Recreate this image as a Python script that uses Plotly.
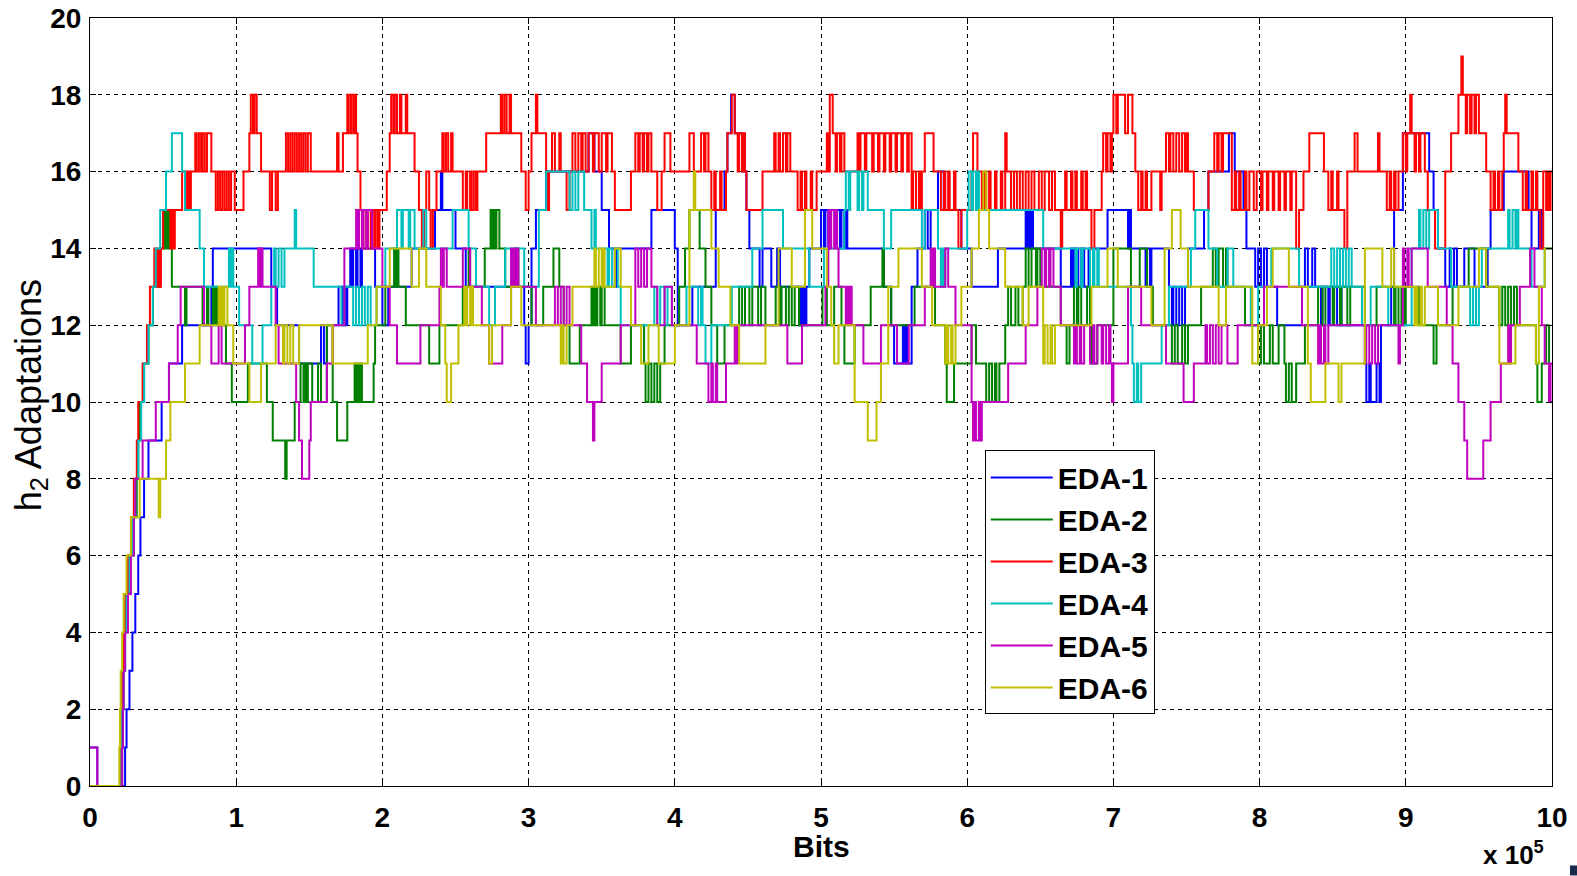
import plotly.graph_objects as go

# Step-change points: (bits in units of 1e5, number of h2 adaptations)
EDA1 = [(0, 1), (0.05, 0), (0.24, 1), (0.25, 2), (0.27, 3), (0.29, 4), (0.31, 5), (0.33, 6), (0.345, 7), (0.37, 8),
        (0.40, 9), (0.49, 10), (0.54, 11), (0.63, 12), (0.83, 13), (0.84, 14), (1.24, 13), (1.28, 12), (1.43, 11),
        (1.58, 12), (1.60, 11), (1.62, 12), (1.70, 13), (1.73, 12), (1.74, 13), (1.75, 12), (1.76, 13), (1.78, 14),
        (1.79, 13), (1.80, 14), (1.82, 13), (1.83, 14), (1.85, 13), (1.86, 14), (1.95, 13), (2.0, 12), (2.04, 13),
        (2.20, 14), (2.36, 15), (2.40, 16), (2.41, 15), (2.50, 14), (2.57, 13), (2.97, 12), (2.98, 11), (3.00, 12),
        (3.02, 14), (3.05, 15), (3.12, 16), (3.41, 17), (3.45, 16), (3.50, 15), (3.55, 14), (3.59, 13), (3.60, 14),
        (3.84, 15), (4.0, 14), (4.02, 12), (4.12, 13), (4.28, 15), (4.34, 16), (4.36, 17), (4.385, 18), (4.41, 17),
        (4.46, 16), (4.49, 15), (4.51, 14), (4.58, 13), (4.60, 14), (4.66, 13), (4.70, 14), (4.72, 13), (4.85, 12),
        (4.86, 13), (4.87, 12), (4.88, 13), (4.89, 12), (4.90, 13), (4.92, 14), (5.0, 15), (5.02, 14), (5.03, 15),
        (5.05, 14), (5.06, 15), (5.13, 14), (5.14, 15), (5.16, 14), (5.17, 15), (5.18, 14), (5.43, 13), (5.48, 12),
        (5.50, 11), (5.56, 12), (5.57, 11), (5.58, 12), (5.59, 11), (5.62, 13), (5.66, 14), (5.71, 15), (5.73, 14),
        (5.75, 15), (5.80, 16), (5.84, 15), (5.96, 14), (6.03, 13), (6.21, 14), (6.40, 15), (6.41, 14), (6.42, 15),
        (6.43, 14), (6.44, 15), (6.45, 14), (6.64, 13), (6.71, 14), (6.72, 13), (6.73, 14), (6.76, 13), (6.78, 14),
        (6.80, 13), (6.83, 14), (6.96, 15), (7.10, 14), (7.11, 15), (7.12, 14), (7.22, 13), (7.23, 14), (7.25, 13),
        (7.26, 14), (7.38, 13), (7.40, 12), (7.41, 13), (7.43, 12), (7.45, 13), (7.47, 12), (7.49, 13), (7.51, 14),
        (7.62, 15), (7.65, 16), (7.79, 17), (7.83, 16), (7.89, 15), (7.91, 14), (7.97, 13), (7.99, 14), (8.01, 13),
        (8.03, 14), (8.05, 13), (8.12, 12), (8.29, 13), (8.31, 14), (8.33, 13), (8.36, 14), (8.38, 13), (8.42, 12),
        (8.43, 13), (8.47, 12), (8.48, 13), (8.53, 12), (8.55, 13), (8.56, 12), (8.72, 11), (8.73, 10), (8.75, 11),
        (8.76, 10), (8.80, 11), (8.82, 10), (8.83, 12), (8.90, 13), (8.92, 15), (8.98, 17), (9.16, 16), (9.19, 15),
        (9.22, 14), (9.27, 13), (9.30, 14), (9.31, 13), (9.33, 14), (9.35, 13), (9.40, 14), (9.47, 13), (9.56, 14),
        (9.58, 15), (9.67, 16), (9.84, 15), (9.86, 14), (9.91, 15), (9.93, 14), (10.0, 14)]

EDA2 = [(0, 0), (0.22, 1), (0.225, 2), (0.23, 3), (0.24, 4), (0.25, 5), (0.27, 6), (0.30, 7), (0.32, 8), (0.33, 9),
        (0.34, 10), (0.37, 11), (0.40, 12), (0.43, 13), (0.48, 14), (0.50, 15), (0.51, 14), (0.52, 15), (0.53, 14),
        (0.54, 15), (0.55, 14), (0.56, 13), (0.65, 12), (0.66, 13), (0.77, 12), (0.80, 13), (0.81, 12), (0.84, 13),
        (0.85, 12), (0.86, 13), (0.87, 12), (0.93, 11), (0.97, 10), (1.08, 11), (1.21, 10), (1.25, 9), (1.335, 8),
        (1.345, 9), (1.40, 10), (1.44, 11), (1.46, 10), (1.47, 11), (1.48, 10), (1.49, 11), (1.52, 10), (1.56, 11),
        (1.58, 10), (1.62, 12), (1.66, 10), (1.69, 9), (1.76, 10), (1.81, 11), (1.82, 10), (1.83, 11), (1.84, 10),
        (1.85, 11), (1.86, 10), (1.94, 11), (1.95, 12), (2.02, 13), (2.08, 14), (2.09, 13), (2.10, 14), (2.11, 13),
        (2.16, 12), (2.32, 11), (2.39, 12), (2.55, 13), (2.59, 14), (2.60, 13), (2.70, 14), (2.74, 15), (2.75, 14),
        (2.76, 15), (2.77, 14), (2.78, 15), (2.80, 14), (2.84, 13), (2.91, 14), (2.93, 13), (3.02, 12), (3.10, 13),
        (3.17, 14), (3.21, 13), (3.24, 12), (3.28, 11), (3.35, 12), (3.43, 13), (3.44, 12), (3.45, 13), (3.46, 12),
        (3.47, 13), (3.49, 12), (3.50, 13), (3.52, 12), (3.63, 11), (3.70, 12), (3.79, 11), (3.80, 10), (3.82, 11),
        (3.84, 10), (3.86, 11), (3.88, 10), (3.90, 11), (3.93, 12), (4.03, 13), (4.07, 14), (4.10, 15), (4.17, 14),
        (4.21, 13), (4.25, 12), (4.29, 11), (4.34, 12), (4.44, 13), (4.46, 12), (4.48, 13), (4.51, 12), (4.53, 13),
        (4.57, 12), (4.59, 13), (4.62, 12), (4.69, 13), (4.72, 12), (4.73, 13), (4.76, 12), (4.78, 13), (4.80, 12),
        (4.82, 13), (4.85, 12), (5.01, 13), (5.04, 12), (5.09, 13), (5.14, 12), (5.16, 11), (5.23, 12), (5.34, 13),
        (5.42, 14), (5.43, 13), (5.48, 12), (5.64, 13), (5.78, 12), (5.85, 11), (5.86, 10), (5.91, 11), (6.03, 12),
        (6.06, 11), (6.13, 10), (6.15, 11), (6.17, 10), (6.19, 11), (6.20, 10), (6.22, 11), (6.26, 12), (6.28, 13),
        (6.30, 12), (6.33, 13), (6.35, 12), (6.38, 13), (6.40, 14), (6.42, 13), (6.44, 14), (6.47, 13), (6.48, 14),
        (6.50, 13), (6.64, 12), (6.68, 11), (6.70, 12), (6.73, 13), (6.75, 12), (6.76, 13), (6.78, 12), (6.82, 13),
        (6.84, 12), (6.85, 11), (6.89, 12), (7.0, 14), (7.12, 13), (7.18, 14), (7.23, 13), (7.27, 12), (7.40, 11),
        (7.42, 12), (7.44, 11), (7.47, 12), (7.49, 11), (7.51, 12), (7.60, 13), (7.68, 14), (7.70, 13), (7.72, 14),
        (7.75, 13), (7.77, 14), (7.78, 13), (7.90, 12), (7.99, 11), (8.01, 12), (8.03, 11), (8.07, 12), (8.09, 11),
        (8.13, 12), (8.17, 11), (8.18, 10), (8.20, 11), (8.22, 10), (8.25, 11), (8.31, 12), (8.40, 13), (8.43, 12),
        (8.45, 13), (8.50, 12), (8.51, 13), (8.55, 12), (8.56, 13), (8.60, 12), (8.62, 13), (8.72, 12), (8.80, 13),
        (8.92, 12), (8.93, 13), (8.95, 12), (8.97, 13), (8.99, 12), (9.00, 13), (9.09, 12), (9.19, 11), (9.21, 12),
        (9.32, 13), (9.43, 14), (9.55, 13), (9.64, 12), (9.66, 13), (9.68, 12), (9.70, 13), (9.72, 12), (9.74, 13),
        (9.76, 12), (9.89, 11), (9.90, 10), (9.93, 11), (9.96, 12), (9.98, 10), (10.0, 10)]

EDA3 = [(0, 0), (0.21, 1), (0.215, 2), (0.22, 3), (0.23, 4), (0.24, 5), (0.26, 6), (0.28, 7), (0.30, 8), (0.32, 9),
        (0.33, 10), (0.36, 11), (0.39, 12), (0.41, 13), (0.44, 14), (0.455, 13), (0.465, 14), (0.475, 13), (0.485, 14),
        (0.50, 15), (0.55, 14), (0.56, 15), (0.57, 14), (0.58, 15), (0.63, 16), (0.66, 15), (0.67, 16), (0.68, 15),
        (0.69, 16), (0.72, 17), (0.73, 16), (0.745, 17), (0.76, 16), (0.77, 17), (0.785, 16), (0.80, 17), (0.83, 16),
        (0.86, 15), (0.875, 16), (0.89, 15), (0.905, 16), (0.92, 15), (0.935, 16), (0.95, 15), (0.965, 16), (0.99, 15),
        (1.05, 16), (1.09, 17), (1.10, 18), (1.115, 17), (1.125, 18), (1.14, 17), (1.17, 16), (1.23, 15), (1.245, 16),
        (1.27, 15), (1.285, 16), (1.34, 17), (1.355, 16), (1.37, 17), (1.385, 16), (1.40, 17), (1.415, 16), (1.43, 17),
        (1.445, 16), (1.46, 17), (1.475, 16), (1.49, 17), (1.51, 16), (1.69, 17), (1.70, 16), (1.73, 17), (1.76, 18),
        (1.77, 17), (1.785, 18), (1.80, 17), (1.81, 18), (1.82, 17), (1.83, 16), (1.85, 15), (1.86, 14), (1.87, 15),
        (1.89, 14), (1.90, 15), (1.92, 14), (1.93, 15), (1.945, 14), (1.955, 15), (1.97, 14), (1.98, 15), (2.03, 16),
        (2.05, 17), (2.06, 18), (2.075, 17), (2.085, 18), (2.10, 17), (2.12, 18), (2.13, 17), (2.16, 18), (2.17, 17),
        (2.22, 16), (2.25, 15), (2.27, 14), (2.285, 15), (2.30, 16), (2.32, 15), (2.33, 14), (2.345, 15), (2.37, 16),
        (2.41, 17), (2.42, 16), (2.435, 17), (2.45, 16), (2.47, 17), (2.48, 16), (2.55, 15), (2.57, 16), (2.58, 15),
        (2.60, 16), (2.61, 15), (2.625, 16), (2.64, 15), (2.65, 16), (2.71, 17), (2.81, 18), (2.82, 17), (2.835, 18),
        (2.85, 17), (2.87, 18), (2.88, 17), (2.95, 16), (2.98, 15), (3.00, 16), (3.02, 17), (3.05, 18), (3.06, 17),
        (3.12, 16), (3.13, 15), (3.14, 16), (3.16, 17), (3.18, 16), (3.21, 17), (3.22, 16), (3.26, 15), (3.28, 16),
        (3.30, 17), (3.32, 16), (3.34, 17), (3.36, 16), (3.37, 17), (3.39, 16), (3.41, 17), (3.44, 16), (3.45, 17),
        (3.48, 16), (3.50, 17), (3.53, 16), (3.54, 17), (3.57, 16), (3.59, 15), (3.70, 16), (3.73, 17), (3.75, 16),
        (3.76, 17), (3.78, 16), (3.79, 17), (3.81, 16), (3.82, 17), (3.84, 16), (3.88, 15), (3.91, 16), (3.93, 17),
        (3.97, 16), (4.10, 17), (4.13, 16), (4.18, 17), (4.20, 16), (4.21, 17), (4.23, 16), (4.25, 15), (4.27, 16),
        (4.28, 15), (4.31, 16), (4.32, 15), (4.35, 16), (4.36, 17), (4.39, 18), (4.41, 17), (4.43, 16), (4.44, 17),
        (4.46, 16), (4.47, 17), (4.48, 16), (4.49, 15), (4.60, 16), (4.68, 17), (4.69, 16), (4.71, 17), (4.72, 16),
        (4.74, 17), (4.76, 16), (4.77, 17), (4.79, 16), (4.84, 15), (4.86, 16), (4.87, 15), (4.89, 16), (4.90, 15),
        (4.93, 16), (4.94, 15), (4.97, 16), (5.04, 17), (5.05, 16), (5.06, 18), (5.08, 17), (5.10, 16), (5.11, 17),
        (5.13, 16), (5.14, 17), (5.16, 16), (5.25, 17), (5.26, 16), (5.27, 17), (5.30, 16), (5.31, 17), (5.35, 16),
        (5.36, 17), (5.39, 16), (5.40, 17), (5.43, 16), (5.44, 17), (5.47, 16), (5.48, 17), (5.51, 16), (5.52, 17),
        (5.55, 16), (5.56, 17), (5.59, 16), (5.60, 17), (5.62, 15), (5.63, 16), (5.65, 15), (5.67, 16), (5.68, 15),
        (5.69, 16), (5.71, 17), (5.77, 16), (5.82, 15), (5.84, 16), (5.85, 15), (5.87, 16), (5.88, 15), (5.91, 16),
        (5.92, 15), (5.94, 14), (5.96, 15), (6.03, 16), (6.04, 17), (6.07, 16), (6.10, 15), (6.12, 16), (6.13, 15),
        (6.15, 16), (6.16, 15), (6.19, 16), (6.20, 15), (6.23, 16), (6.24, 15), (6.26, 17), (6.27, 16), (6.30, 15),
        (6.32, 16), (6.34, 15), (6.36, 16), (6.38, 15), (6.40, 16), (6.42, 15), (6.44, 16), (6.46, 15), (6.49, 16),
        (6.51, 15), (6.53, 16), (6.56, 15), (6.58, 16), (6.60, 15), (6.64, 14), (6.65, 15), (6.67, 16), (6.68, 15),
        (6.71, 16), (6.72, 15), (6.74, 16), (6.75, 15), (6.78, 16), (6.79, 15), (6.81, 16), (6.82, 15), (6.85, 14),
        (6.87, 15), (6.92, 16), (6.93, 17), (6.95, 16), (6.96, 17), (6.98, 16), (6.99, 17), (7.0, 18), (7.02, 17),
        (7.03, 18), (7.08, 17), (7.10, 18), (7.13, 17), (7.15, 16), (7.17, 15), (7.19, 16), (7.20, 15), (7.22, 16),
        (7.23, 15), (7.26, 16), (7.32, 15), (7.33, 16), (7.36, 17), (7.38, 16), (7.39, 17), (7.41, 16), (7.43, 17),
        (7.45, 16), (7.47, 17), (7.49, 16), (7.50, 17), (7.51, 16), (7.55, 15), (7.65, 16), (7.69, 17), (7.71, 16),
        (7.72, 17), (7.74, 16), (7.75, 17), (7.81, 15), (7.83, 16), (7.84, 15), (7.86, 16), (7.87, 15), (7.90, 16),
        (7.91, 15), (7.93, 16), (7.96, 15), (7.98, 16), (8.01, 15), (8.02, 16), (8.05, 15), (8.06, 16), (8.09, 15),
        (8.10, 16), (8.13, 15), (8.14, 16), (8.17, 15), (8.18, 16), (8.21, 15), (8.22, 16), (8.25, 14), (8.27, 15),
        (8.30, 16), (8.34, 17), (8.44, 16), (8.47, 15), (8.49, 16), (8.50, 15), (8.53, 16), (8.54, 15), (8.58, 14),
        (8.60, 16), (8.65, 17), (8.67, 16), (8.81, 17), (8.82, 16), (8.87, 15), (8.89, 16), (8.90, 15), (8.92, 16),
        (8.93, 15), (8.95, 16), (8.98, 17), (9.00, 16), (9.01, 17), (9.03, 18), (9.04, 17), (9.06, 16), (9.07, 17),
        (9.09, 16), (9.10, 17), (9.13, 16), (9.15, 15), (9.20, 14), (9.27, 16), (9.31, 17), (9.36, 18), (9.38, 19),
        (9.39, 18), (9.41, 17), (9.42, 18), (9.44, 17), (9.45, 18), (9.47, 17), (9.48, 18), (9.50, 17), (9.55, 16),
        (9.58, 15), (9.60, 16), (9.61, 15), (9.63, 16), (9.64, 15), (9.66, 16), (9.67, 17), (9.68, 18), (9.69, 17),
        (9.77, 16), (9.80, 15), (9.82, 16), (9.83, 15), (9.86, 16), (9.87, 15), (9.89, 16), (9.90, 15), (9.92, 14),
        (9.94, 16), (9.96, 15), (9.97, 16), (9.98, 15), (9.99, 16), (10.0, 16)]

EDA4 = [(0, 0), (0.215, 1), (0.22, 2), (0.23, 3), (0.24, 4), (0.25, 5), (0.27, 6), (0.29, 7), (0.31, 8), (0.33, 9),
        (0.35, 10), (0.37, 11), (0.40, 12), (0.43, 13), (0.45, 14), (0.48, 15), (0.52, 16), (0.56, 17), (0.63, 16),
        (0.65, 15), (0.75, 14), (0.78, 13), (0.95, 14), (0.955, 13), (0.96, 14), (0.97, 13), (0.975, 14), (0.98, 13),
        (1.02, 12), (1.11, 11), (1.18, 12), (1.24, 13), (1.26, 14), (1.27, 13), (1.29, 14), (1.31, 13), (1.33, 14),
        (1.40, 15), (1.41, 14), (1.53, 13), (1.72, 12), (1.74, 13), (1.80, 12), (1.82, 13), (1.84, 12), (1.86, 13),
        (1.88, 12), (1.90, 13), (1.92, 12), (1.96, 13), (2.02, 14), (2.10, 15), (2.13, 14), (2.14, 15), (2.18, 14),
        (2.19, 15), (2.22, 14), (2.28, 15), (2.30, 14), (2.48, 15), (2.59, 14), (2.64, 13), (2.73, 12), (2.77, 13),
        (2.84, 14), (2.97, 13), (3.07, 15), (3.12, 16), (3.28, 15), (3.30, 16), (3.32, 15), (3.34, 16), (3.38, 15),
        (3.43, 14), (3.45, 15), (3.46, 14), (3.54, 13), (3.55, 14), (3.57, 13), (3.59, 14), (3.61, 13), (3.63, 12),
        (3.86, 13), (3.88, 12), (3.90, 13), (3.93, 12), (3.95, 13), (3.98, 12), (4.08, 13), (4.16, 12), (4.18, 13),
        (4.19, 12), (4.21, 11), (4.25, 12), (4.39, 13), (4.53, 14), (4.60, 15), (4.74, 14), (4.92, 13), (5.02, 14),
        (5.16, 15), (5.17, 16), (5.19, 15), (5.20, 16), (5.25, 15), (5.26, 16), (5.28, 15), (5.29, 16), (5.32, 15),
        (5.43, 14), (5.48, 15), (5.69, 14), (5.71, 15), (5.80, 14), (5.82, 13), (5.83, 14), (5.84, 13), (5.85, 14),
        (6.00, 15), (6.01, 16), (6.03, 15), (6.04, 16), (6.06, 15), (6.07, 16), (6.08, 15), (6.52, 14), (6.74, 13),
        (6.75, 14), (6.78, 13), (6.79, 14), (6.84, 13), (6.86, 14), (6.87, 13), (6.89, 14), (6.90, 13), (7.12, 12),
        (7.13, 11), (7.14, 10), (7.16, 11), (7.17, 10), (7.19, 11), (7.33, 12), (7.38, 13), (7.53, 14), (7.56, 15),
        (7.65, 14), (7.71, 13), (7.78, 14), (7.82, 13), (7.94, 12), (7.99, 13), (8.08, 14), (8.27, 13), (8.49, 14),
        (8.51, 13), (8.53, 14), (8.55, 13), (8.57, 14), (8.59, 13), (8.61, 14), (8.63, 13), (8.70, 12), (8.76, 13),
        (8.88, 12), (9.04, 14), (9.09, 15), (9.10, 14), (9.12, 15), (9.14, 14), (9.16, 15), (9.22, 14), (9.31, 13),
        (9.44, 12), (9.46, 13), (9.48, 12), (9.50, 13), (9.52, 14), (9.70, 15), (9.71, 14), (9.73, 15), (9.75, 14),
        (9.76, 15), (9.77, 14), (9.86, 13), (9.95, 14), (10.0, 14)]

EDA5 = [(0, 1), (0.05, 0), (0.22, 1), (0.225, 2), (0.23, 3), (0.24, 4), (0.26, 5), (0.28, 6), (0.30, 7), (0.31, 8),
        (0.36, 9), (0.45, 10), (0.54, 11), (0.60, 12), (0.62, 13), (0.78, 12), (0.83, 11), (0.88, 12), (0.90, 11),
        (1.06, 12), (1.09, 13), (1.15, 14), (1.16, 13), (1.17, 14), (1.18, 13), (1.27, 12), (1.29, 11), (1.41, 10),
        (1.43, 9), (1.45, 8), (1.50, 9), (1.51, 10), (1.62, 11), (1.66, 12), (1.74, 14), (1.82, 15), (1.83, 14),
        (1.84, 15), (1.86, 14), (1.87, 15), (1.89, 14), (1.90, 15), (1.93, 14), (2.0, 13), (2.05, 12), (2.10, 11),
        (2.26, 12), (2.39, 13), (2.40, 14), (2.41, 13), (2.42, 14), (2.44, 13), (2.55, 14), (2.60, 13), (2.68, 12),
        (2.73, 11), (2.82, 12), (2.88, 14), (2.89, 13), (2.90, 14), (2.91, 13), (2.92, 14), (2.93, 13), (3.05, 12),
        (3.18, 13), (3.20, 12), (3.22, 13), (3.24, 12), (3.26, 13), (3.28, 12), (3.36, 11), (3.40, 10), (3.44, 9),
        (3.45, 10), (3.50, 11), (3.63, 12), (3.73, 14), (3.75, 13), (3.77, 14), (3.79, 13), (3.81, 14), (3.84, 13),
        (3.88, 12), (3.93, 13), (3.98, 12), (4.15, 11), (4.23, 10), (4.25, 11), (4.26, 10), (4.28, 11), (4.29, 10),
        (4.35, 11), (4.41, 12), (4.42, 11), (4.43, 12), (4.77, 11), (4.87, 12), (5.03, 13), (5.05, 15), (5.06, 14),
        (5.07, 15), (5.09, 14), (5.10, 15), (5.11, 14), (5.12, 13), (5.17, 12), (5.18, 13), (5.19, 12), (5.20, 13),
        (5.21, 12), (5.29, 11), (5.41, 12), (5.52, 11), (5.60, 12), (5.71, 13), (5.75, 14), (5.76, 13), (5.77, 14),
        (5.78, 13), (5.85, 14), (5.87, 13), (5.92, 12), (6.03, 10), (6.04, 9), (6.05, 10), (6.06, 9), (6.08, 10),
        (6.09, 9), (6.10, 10), (6.28, 11), (6.40, 12), (6.48, 13), (6.51, 14), (6.53, 13), (6.54, 14), (6.56, 13),
        (6.57, 14), (6.59, 13), (6.64, 12), (6.73, 11), (6.74, 12), (6.75, 11), (6.77, 12), (6.78, 11), (6.80, 12),
        (6.84, 11), (6.86, 12), (6.87, 11), (6.89, 12), (6.92, 11), (6.93, 12), (6.95, 11), (6.97, 12), (6.98, 11),
        (6.99, 10), (7.00, 11), (7.10, 13), (7.19, 12), (7.36, 11), (7.48, 10), (7.55, 11), (7.63, 12), (7.64, 11),
        (7.66, 12), (7.68, 11), (7.70, 12), (7.72, 11), (7.74, 12), (7.78, 11), (7.85, 12), (8.03, 13), (8.29, 12),
        (8.40, 11), (8.41, 12), (8.42, 11), (8.44, 12), (8.45, 11), (8.47, 12), (8.72, 11), (8.73, 12), (8.75, 11),
        (8.77, 12), (8.79, 11), (8.81, 12), (8.95, 11), (8.96, 12), (8.98, 14), (8.99, 13), (9.01, 14), (9.02, 13),
        (9.04, 14), (9.15, 13), (9.28, 12), (9.32, 11), (9.36, 10), (9.40, 9), (9.42, 8), (9.53, 9), (9.58, 10),
        (9.65, 11), (9.70, 12), (9.71, 11), (9.72, 12), (9.78, 13), (9.85, 14), (9.88, 13), (9.93, 12), (9.95, 11),
        (9.98, 10), (9.99, 11), (10.0, 11)]

EDA6 = [(0, 0), (0.20, 1), (0.205, 2), (0.21, 3), (0.22, 4), (0.23, 5), (0.25, 6), (0.28, 7), (0.34, 8), (0.47, 7),
        (0.48, 8), (0.52, 9), (0.55, 10), (0.65, 11), (0.75, 12), (0.88, 13), (0.89, 12), (0.90, 13), (0.91, 12),
        (0.92, 13), (0.94, 12), (0.98, 11), (1.09, 10), (1.17, 11), (1.27, 12), (1.32, 11), (1.33, 12), (1.35, 11),
        (1.37, 12), (1.39, 11), (1.43, 12), (1.66, 11), (1.90, 12), (1.96, 13), (2.05, 14), (2.20, 13), (2.25, 14),
        (2.30, 13), (2.40, 12), (2.43, 11), (2.44, 10), (2.47, 11), (2.52, 12), (2.56, 13), (2.57, 12), (2.58, 13),
        (2.60, 12), (2.61, 13), (2.62, 12), (2.73, 11), (2.75, 12), (2.88, 13), (2.95, 12), (3.22, 11), (3.23, 12),
        (3.24, 11), (3.26, 12), (3.30, 13), (3.45, 14), (3.46, 13), (3.48, 14), (3.50, 13), (3.51, 14), (3.52, 13),
        (3.59, 14), (3.63, 13), (3.70, 12), (3.77, 11), (3.82, 12), (3.89, 11), (4.0, 12), (4.10, 15), (4.13, 16),
        (4.14, 15), (4.25, 14), (4.30, 13), (4.38, 12), (4.44, 11), (4.62, 12), (4.71, 14), (4.80, 13), (4.89, 15),
        (4.94, 14), (5.04, 13), (5.07, 12), (5.09, 11), (5.12, 12), (5.23, 10), (5.32, 9), (5.38, 10), (5.41, 11),
        (5.46, 13), (5.53, 14), (5.69, 13), (5.76, 12), (5.85, 11), (5.86, 12), (5.87, 11), (5.89, 12), (5.90, 11),
        (5.92, 12), (5.96, 13), (6.03, 14), (6.08, 15), (6.11, 16), (6.13, 15), (6.15, 14), (6.26, 13), (6.38, 12),
        (6.42, 13), (6.52, 11), (6.53, 12), (6.55, 11), (6.57, 12), (6.58, 11), (6.60, 12), (6.85, 13), (6.96, 14),
        (7.03, 13), (7.26, 12), (7.35, 14), (7.40, 15), (7.46, 14), (7.51, 13), (7.72, 12), (7.77, 13), (7.95, 11),
        (7.99, 12), (8.05, 13), (8.09, 14), (8.20, 13), (8.33, 11), (8.35, 10), (8.45, 11), (8.54, 10), (8.56, 11),
        (8.72, 14), (8.84, 13), (8.90, 14), (8.92, 13), (9.06, 12), (9.07, 13), (9.08, 12), (9.10, 13), (9.11, 12),
        (9.13, 13), (9.22, 12), (9.36, 13), (9.50, 14), (9.55, 13), (9.64, 11), (9.75, 12), (9.89, 11), (9.91, 13),
        (9.95, 14), (10.0, 14)]

SERIES_NAMES = ["EDA-1", "EDA-2", "EDA-3", "EDA-4", "EDA-5", "EDA-6"]
SERIES_DATA = [EDA1, EDA2, EDA3, EDA4, EDA5, EDA6]
SERIES_COLORS = ["#0000FF", "#008000", "#FF0000", "#00BFBF", "#BF00BF", "#BFBF00"]
X_TICKS = [0, 1, 2, 3, 4, 5, 6, 7, 8, 9, 10]
Y_TICKS = [0, 2, 4, 6, 8, 10, 12, 14, 16, 18, 20]

FONT = "Liberation Sans, Arial, sans-serif"

fig = go.Figure()
for name, data, color in zip(SERIES_NAMES, SERIES_DATA, SERIES_COLORS):
    xs = [p[0] for p in data]
    ys = [p[1] for p in data]
    fig.add_trace(go.Scatter(x=xs, y=ys, mode="lines", name=name,
                             line=dict(color=color, width=2, shape="hv")))

tick_font = dict(family=FONT, size=28, color="black", weight="bold")
axis_common = dict(showline=True, linecolor="black", linewidth=1, mirror="ticks",
                   ticks="inside", ticklen=6, tickcolor="black",
                   showgrid=True, gridcolor="black", gridwidth=1, griddash="4px,4px",
                   zeroline=False, tickfont=tick_font, automargin=False)

fig.update_layout(
    width=1577, height=876,
    paper_bgcolor="white", plot_bgcolor="white",
    margin=dict(l=90, r=25, t=18, b=90),
    showlegend=True,
    legend=dict(x=0.612, y=0.437, xanchor="left", yanchor="top",
                bgcolor="white", bordercolor="black", borderwidth=1,
                font=dict(family=FONT, size=30, color="black", weight="bold"),
                itemwidth=62, tracegroupgap=0),
    xaxis=dict(range=[0, 10], tickvals=X_TICKS, ticktext=[str(v) for v in X_TICKS],
               ticklabelstandoff=6, **axis_common),
    yaxis=dict(range=[0, 20], tickvals=Y_TICKS, ticktext=[str(v) for v in Y_TICKS],
               ticklabelstandoff=2, **axis_common),
    annotations=[
        dict(text="Bits", xref="paper", yref="paper", x=0.5, y=-0.079, xanchor="center", yanchor="middle",
             showarrow=False, font=dict(family=FONT, size=30, color="black", weight="bold")),
        dict(text="h<sub>2</sub> Adaptations", xref="paper", yref="paper", x=-0.0407, y=0.5095,
             xanchor="center", yanchor="middle", textangle=-90, showarrow=False,
             font=dict(family=FONT, size=36, color="black")),
        dict(text="x 10<sup>5</sup>", xref="paper", yref="paper", x=0.974, y=-0.1125,
             xanchor="center", yanchor="bottom", showarrow=False,
             font=dict(family=FONT, size=26, color="black", weight="bold")),
    ],
    shapes=[dict(type="rect", xref="paper", yref="paper", x0=1.0123, x1=1.0171, y0=-0.1165, y1=-0.1035,
                 fillcolor="#1a2a4a", line=dict(width=0))],
)

fig.write_html("out.html", config={"displayModeBar": False},
               post_script="document.body.style.margin='0';")
